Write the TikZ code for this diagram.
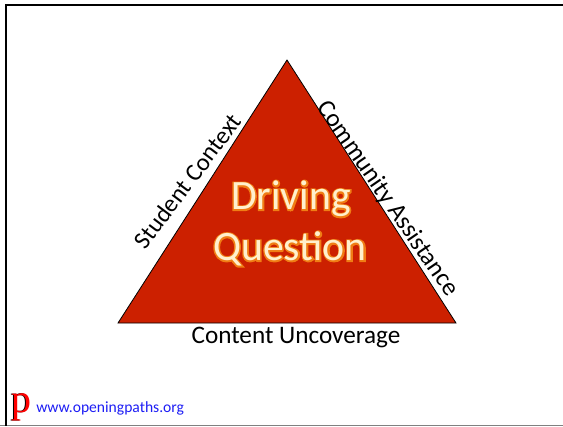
\documentclass[tikz,border=0pt]{standalone}
\usepackage{fontspec}
\setmainfont{Carlito}
\newfontfamily\serifp{Liberation Serif}
\newfontfamily\glowfont[FakeBold=7]{Carlito}
\definecolor{trired}{RGB}{204,32,0}
\definecolor{glowor}{RGB}{240,125,20}
\definecolor{glowin}{RGB}{255,240,205}
\definecolor{linkblue}{RGB}{30,30,245}
\newcommand{\glowtext}[3]{%
  \node[glowtext,text=glowor] (#2halo) at (#1) {\glowfont #3};
  \node[bigtext,text=glowin] (#2) at (#1) {#3};}
\tikzset{
  bigtext/.style={font=\fontsize{31.3}{33}\selectfont,inner sep=0pt},
  glowtext/.style={font=\fontsize{31.3}{33}\selectfont,inner sep=0pt},
  sidetext/.style={font=\fontsize{18.9}{20}\selectfont,inner sep=0pt,text=black},
  logotext/.style={inner sep=0pt,anchor=base west,font=\fontsize{30}{30}\serifp},
}
\begin{document}
\begin{tikzpicture}[x=0.75pt,y=-0.75pt]
\useasboundingbox (0,0) rectangle (563,426);
\fill[white] (0,0) rectangle (563,426);
\draw[line width=0.75pt,gray] (0,425.5) -- (563,425.5);
\draw[line width=1.5pt,black] (6,4) -- (6,426);
\draw[line width=1.5pt,black] (5.2,4.5) -- (563,4.5);
\coordinate (apex) at (287,60);
\coordinate (bl) at (118,323);
\coordinate (br) at (456,323);
\fill[trired,draw=black,line width=0.6pt] (apex) -- (br) -- (bl) -- cycle;
\coordinate (c1) at (291,199);
\coordinate (c2) at (290,249);
\glowtext{c1}{driving}{Driving}
\glowtext{c2}{question}{Question}
\node[sidetext,font=\fontsize{18.4}{20}\selectfont,rotate=53] (student) at (187.5,181) {Student Context};
\node[sidetext,rotate=-55.5] (community) at (387.5,199) {Community Assistance};
\node[sidetext] (content) at (296,337) {Content Uncoverage};
\node[logotext,text=black] (logoshadow) at (10.2,412) {p};
\node[logotext,text=red] (logo) at (11,412) {p};
\node[inner sep=0pt,anchor=base west,font=\fontsize{11.7}{12}\selectfont,text=linkblue] (url) at (36,412) {www.openingpaths.org};
\end{tikzpicture}
\end{document}
